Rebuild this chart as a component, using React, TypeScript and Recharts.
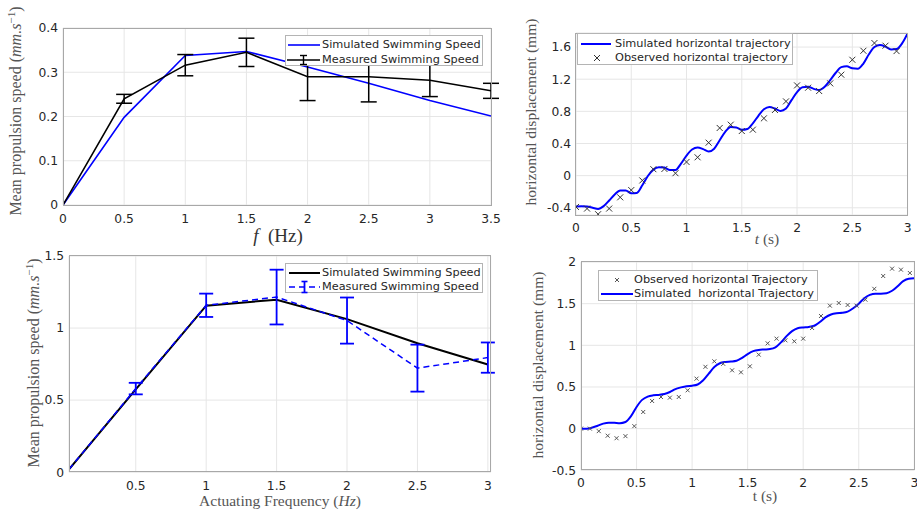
import React from 'react';
import { ComposedChart, Line, XAxis, YAxis, CartesianGrid, ErrorBar } from 'recharts';

// ---------- Panel A (top-left): speed vs frequency ----------
const freqA = [0, 0.5, 1, 1.5, 2, 2.5, 3, 3.5];
const simSpeedA = [0, 0.198, 0.338, 0.347, 0.312, 0.275, 0.236, 0.201];
const measSpeedA = [0, 0.24, 0.316, 0.345, 0.29, 0.29, 0.282, 0.258];
const measErrA = [0, 0.01, 0.024, 0.032, 0.054, 0.057, 0.037, 0.017];
const xTicksA = [0, 0.5, 1, 1.5, 2, 2.5, 3, 3.5];
const yTicksA = [0, 0.1, 0.2, 0.3, 0.4];

// ---------- Panel B (top-right): trajectory ----------
const simTimeB = [0, 0.05, 0.1, 0.15, 0.2, 0.25, 0.3, 0.35, 0.4, 0.45, 0.5, 0.55, 0.6, 0.65, 0.7, 0.75, 0.8, 0.85, 0.9, 0.95, 1, 1.05, 1.1, 1.15, 1.2, 1.25, 1.3, 1.35, 1.4, 1.45, 1.5, 1.55, 1.6, 1.65, 1.7, 1.75, 1.8, 1.85, 1.9, 1.95, 2, 2.05, 2.1, 2.15, 2.2, 2.25, 2.3, 2.35, 2.4, 2.45, 2.5, 2.55, 2.6, 2.65, 2.7, 2.75, 2.8, 2.85, 2.9, 2.95, 3];
const simDispB = [-0.385, -0.38, -0.385, -0.4, -0.415, -0.38, -0.31, -0.235, -0.185, -0.185, -0.22, -0.215, -0.12, -0.005, 0.075, 0.105, 0.1, 0.07, 0.07, 0.15, 0.25, 0.325, 0.35, 0.33, 0.3, 0.335, 0.44, 0.545, 0.605, 0.6, 0.57, 0.58, 0.65, 0.745, 0.825, 0.855, 0.835, 0.805, 0.835, 0.94, 1.04, 1.1, 1.105, 1.08, 1.065, 1.105, 1.19, 1.28, 1.35, 1.36, 1.335, 1.33, 1.395, 1.51, 1.6, 1.625, 1.605, 1.57, 1.575, 1.645, 1.77];
const obsTimeB = [0, 0.1, 0.2, 0.3, 0.4, 0.5, 0.6, 0.7, 0.8, 0.9, 1, 1.1, 1.2, 1.3, 1.4, 1.5, 1.6, 1.7, 1.8, 1.9, 2, 2.1, 2.2, 2.3, 2.4, 2.5, 2.6, 2.7, 2.8, 2.9];
const obsDispB = [-0.39, -0.41, -0.48, -0.41, -0.27, -0.18, -0.06, 0.08, 0.083, 0.03, 0.17, 0.228, 0.41, 0.593, 0.634, 0.555, 0.572, 0.713, 0.817, 0.924, 1.123, 1.094, 1.053, 1.148, 1.256, 1.442, 1.554, 1.65, 1.617, 1.55];
const xTicksB = [0, 0.5, 1, 1.5, 2, 2.5, 3];
const yTicksB = [-0.4, 0, 0.4, 0.8, 1.2, 1.6];

// ---------- Panel C (bottom-left): speed vs actuating frequency ----------
const freqC = [0.026, 0.5, 1, 1.5, 2, 2.5, 3];
const simSpeedC = [0.02, 0.575, 1.155, 1.197, 1.062, 0.895, 0.747];
const measSpeedC = [0.02, 0.58, 1.158, 1.215, 1.052, 0.722, 0.795];
const measErrC = [0, 0.04, 0.081, 0.19, 0.16, 0.163, 0.105];
const xTicksC = [0.5, 1, 1.5, 2, 2.5, 3];
const yTicksC = [0, 0.5, 1, 1.5];

// ---------- Panel D (bottom-right): trajectory ----------
const simTimeD = [0, 0.05, 0.1, 0.15, 0.2, 0.25, 0.3, 0.35, 0.4, 0.45, 0.5, 0.55, 0.6, 0.65, 0.7, 0.75, 0.8, 0.85, 0.9, 0.95, 1, 1.05, 1.1, 1.15, 1.2, 1.25, 1.3, 1.35, 1.4, 1.45, 1.5, 1.55, 1.6, 1.65, 1.7, 1.75, 1.8, 1.85, 1.9, 1.95, 2, 2.05, 2.1, 2.15, 2.2, 2.25, 2.3, 2.35, 2.4, 2.45, 2.5, 2.55, 2.6, 2.65, 2.7, 2.75, 2.8, 2.85, 2.9, 2.95, 3];
const simDispD = [0, 0, 0.012, 0.035, 0.06, 0.072, 0.07, 0.066, 0.08, 0.15, 0.26, 0.345, 0.385, 0.4, 0.405, 0.415, 0.44, 0.475, 0.495, 0.51, 0.515, 0.53, 0.58, 0.66, 0.74, 0.785, 0.8, 0.805, 0.815, 0.85, 0.895, 0.93, 0.945, 0.95, 0.955, 0.975, 1.035, 1.11, 1.17, 1.205, 1.215, 1.22, 1.235, 1.28, 1.335, 1.37, 1.385, 1.39, 1.405, 1.445, 1.5, 1.565, 1.605, 1.62, 1.62, 1.625, 1.655, 1.71, 1.77, 1.8, 1.805];
const obsTimeD = [0, 0.08, 0.16, 0.24, 0.32, 0.4, 0.48, 0.56, 0.64, 0.72, 0.8, 0.88, 0.96, 1.04, 1.12, 1.2, 1.28, 1.36, 1.44, 1.52, 1.6, 1.68, 1.76, 1.84, 1.92, 2, 2.08, 2.16, 2.24, 2.32, 2.4, 2.48, 2.56, 2.64, 2.72, 2.8, 2.88, 2.96];
const obsDispD = [0, 0, -0.03, -0.085, -0.115, -0.09, 0.03, 0.2, 0.332, 0.38, 0.372, 0.38, 0.46, 0.6, 0.742, 0.808, 0.778, 0.7, 0.676, 0.748, 0.888, 1.024, 1.08, 1.06, 1.048, 1.08, 1.208, 1.352, 1.476, 1.508, 1.484, 1.476, 1.548, 1.678, 1.832, 1.92, 1.908, 1.868];
const xTicksD = [0, 0.5, 1, 1.5, 2, 2.5, 3];
const yTicksD = [-0.5, 0, 0.5, 1, 1.5, 2];

// ---------- tables built from the arrays ----------
const rowsA = freqA.map((x, i) => ({ x, sim: simSpeedA[i], meas: measSpeedA[i], err: measErrA[i] }));
const rowsC = freqC.map((x, i) => ({ x, sim: simSpeedC[i], meas: measSpeedC[i], err: measErrC[i] }));
const simB = simTimeB.map((x, i) => ({ x, y: simDispB[i] }));
const obsB = obsTimeB.map((x, i) => ({ x, y: obsDispB[i] }));
const simD = simTimeD.map((x, i) => ({ x, y: simDispD[i] }));
const obsD = obsTimeD.map((x, i) => ({ x, y: obsDispD[i] }));

// ---------- layout ----------
type Rect = { x: number; y: number; w: number; h: number };
const rA: Rect = { x: 63, y: 28, w: 428, h: 177 };
const rB: Rect = { x: 575.7, y: 33, w: 331.6, h: 182 };
const rC: Rect = { x: 69.3, y: 255.5, w: 421.7, h: 216.2 };
const rD: Rect = { x: 581, y: 261.7, w: 333.3, h: 208.3 };

const YW = 50;
const MT = 6;
const XH = 30;
const MR = 20;
const BLUE = '#0000ff';
const tickStyle = { fontSize: 12.3, fill: '#262626', fontFamily: 'DejaVu Sans' };
const serif = '"Liberation Serif", "DejaVu Serif", serif';
const sans = '"DejaVu Sans", sans-serif';

const makeX = (size: number, color: string) => (props: any) => {
  const { cx, cy, index } = props;
  if (cx == null || cy == null) return <g key={`n${index}`} />;
  const s = size / 2;
  return (
    <path
      key={`m${index}`}
      d={`M${cx - s},${cy - s}L${cx + s},${cy + s}M${cx - s},${cy + s}L${cx + s},${cy - s}`}
      stroke={color}
      strokeWidth={1}
      fill="none"
    />
  );
};

function Frame({ r }: { r: Rect }) {
  return (
    <div
      style={{
        position: 'absolute',
        left: r.x - 0.5,
        top: r.y - 0.5,
        width: r.w + 1,
        height: r.h + 1,
        border: '1px solid #a8a8a8',
        boxSizing: 'border-box',
        pointerEvents: 'none',
      }}
    />
  );
}

function Panel({ r, xDomain, yDomain, xTicks, yTicks, xMargin, data, children }: any) {
  return (
    <div style={{ position: 'absolute', left: r.x - YW, top: r.y - MT }}>
      <ComposedChart
        width={r.w + YW + MR}
        height={r.h + MT + XH}
        data={data}
        margin={{ top: MT, right: MR, bottom: 0, left: 0 }}
      >
        <CartesianGrid stroke="#e6e6e6" strokeWidth={1} />
        <XAxis
          type="number"
          dataKey="x"
          domain={xDomain}
          ticks={xTicks}
          interval={0}
          allowDataOverflow
          axisLine={false}
          tickLine={false}
          tickSize={0}
          tickMargin={xMargin}
          height={XH}
          tick={tickStyle}
        />
        <YAxis
          type="number"
          domain={yDomain}
          ticks={yTicks}
          interval={0}
          allowDataOverflow
          axisLine={false}
          tickLine={false}
          tickSize={0}
          tickMargin={5}
          width={YW}
          tick={tickStyle}
        />
        {children}
      </ComposedChart>
    </div>
  );
}

function VLabel({ cx, cy, children, size = 15.5, color = '#555' }: any) {
  return (
    <div
      style={{
        position: 'absolute',
        left: cx,
        top: cy,
        transform: 'translate(-50%, -50%) rotate(-90deg)',
        whiteSpace: 'nowrap',
        fontFamily: serif,
        fontSize: size,
        color,
        lineHeight: 1,
      }}
    >
      {children}
    </div>
  );
}

function HLabel({ cx, cy, children, size = 15.5, color = '#555' }: any) {
  return (
    <div
      style={{
        position: 'absolute',
        left: cx,
        top: cy,
        transform: 'translate(-50%, -50%)',
        whiteSpace: 'nowrap',
        fontFamily: serif,
        fontSize: size,
        color,
        lineHeight: 0.9,
      }}
    >
      {children}
    </div>
  );
}

function LegendBox({ x, y, w, h, rows }: any) {
  return (
    <div
      style={{
        position: 'absolute',
        left: x,
        top: y,
        width: w,
        height: h,
        border: '1px solid #b4b4b4',
        boxSizing: 'border-box',
        background: '#fff',
      }}
    >
      {rows.map((row: any, i: number) => (
        <div key={i}>
          <svg
            width={40}
            height={14}
            style={{ position: 'absolute', left: row.iconX - x, top: row.cy - y - 7 }}
          >
            {row.icon}
          </svg>
          <div
            style={{
              position: 'absolute',
              left: row.textX - x,
              top: row.cy - y - 7,
              height: 14,
              lineHeight: '14px',
              fontFamily: sans,
              fontSize: 11.3,
              color: '#262626',
              whiteSpace: 'pre',
            }}
          >
            {row.label}
          </div>
        </div>
      ))}
    </div>
  );
}

const speedLabel = (
  <span>
    Mean propulsion speed (<i>mm.s</i>
    <sup style={{ fontSize: '0.7em' }}>−1</sup>)
  </span>
);

export default function App() {
  return (
    <div
      style={{
        position: 'absolute',
        left: 0,
        top: 0,
        width: 917,
        height: 510,
        overflow: 'hidden',
        background: '#fff',
      }}
    >
      {/* Panel A */}
      <Panel r={rA} xDomain={[0, 3.5]} yDomain={[0, 0.4]} xTicks={xTicksA} yTicks={yTicksA} xMargin={9} data={rowsA}>
        <Line dataKey="sim" type="linear" stroke={BLUE} strokeWidth={1.6} dot={false} activeDot={false} isAnimationActive={false} />
        <Line dataKey="meas" type="linear" stroke="#000" strokeWidth={1.6} dot={false} activeDot={false} isAnimationActive={false}>
          <ErrorBar dataKey="err" width={8} stroke="#000" strokeWidth={1.5} direction="y" isAnimationActive={false} />
        </Line>
      </Panel>
      <Frame r={rA} />
      <VLabel cx={15} cy={111} size={16}>{speedLabel}</VLabel>
      <HLabel cx={278} cy={236} size={19} color="#333">
        <i>f</i>&nbsp;&nbsp;(Hz)
      </HLabel>
      <LegendBox
        x={285}
        y={35}
        w={198}
        h={31}
        rows={[
          { cy: 44, iconX: 287, textX: 321, label: 'Simulated Swimming Speed', icon: <line x1={0} y1={7} x2={32} y2={7} stroke={BLUE} strokeWidth={1.6} /> },
          {
            cy: 58.5,
            iconX: 286,
            textX: 321,
            label: 'Measured Swimming Speed',
            icon: (
              <g stroke="#000" strokeWidth={1.4}>
                <line x1={0} y1={7} x2={33} y2={7} />
                <line x1={16.5} y1={2.5} x2={16.5} y2={11.5} />
                <line x1={13} y1={2.5} x2={20} y2={2.5} />
                <line x1={13} y1={11.5} x2={20} y2={11.5} />
              </g>
            ),
          },
        ]}
      />

      {/* Panel B */}
      <Panel r={rB} xDomain={[0, 3]} yDomain={[-0.49, 1.775]} xTicks={xTicksB} yTicks={yTicksB} xMargin={8.5}>
        <Line data={simB} dataKey="y" type="monotone" stroke={BLUE} strokeWidth={2} dot={false} activeDot={false} isAnimationActive={false} />
        <Line data={obsB} dataKey="y" type="linear" stroke="none" dot={makeX(6, '#333')} activeDot={false} isAnimationActive={false} />
      </Panel>
      <Frame r={rB} />
      <VLabel cx={531} cy={112}>horizontal displacement (mm)</VLabel>
      <HLabel cx={767} cy={239}>
        <i>t</i>&nbsp;(s)
      </HLabel>
      <LegendBox
        x={577}
        y={33}
        w={216}
        h={32}
        rows={[
          { cy: 43, iconX: 580, textX: 614, label: 'Simulated horizontal trajectory', icon: <line x1={0} y1={7} x2={30} y2={7} stroke={BLUE} strokeWidth={2} /> },
          {
            cy: 57,
            iconX: 580,
            textX: 614,
            label: 'Observed horizontal trajectory',
            icon: <path d="M13,4L19,10M13,10L19,4" stroke="#333" strokeWidth={1} fill="none" />,
          },
        ]}
      />

      {/* Panel C */}
      <Panel r={rC} xDomain={[0.026, 3.02]} yDomain={[0, 1.5]} xTicks={xTicksC} yTicks={yTicksC} xMargin={9} data={rowsC}>
        <Line dataKey="sim" type="linear" stroke="#000" strokeWidth={2} dot={false} activeDot={false} isAnimationActive={false} />
        <Line dataKey="meas" type="linear" stroke={BLUE} strokeWidth={1.5} strokeDasharray="6 4" dot={false} activeDot={false} isAnimationActive={false}>
          <ErrorBar dataKey="err" width={7} stroke={BLUE} strokeWidth={1.8} direction="y" isAnimationActive={false} />
        </Line>
      </Panel>
      <Frame r={rC} />
      <VLabel cx={33} cy={363} size={16}>{speedLabel}</VLabel>
      <HLabel cx={280} cy={500.5}>
        Actuating Frequency (<i>Hz</i>)
      </HLabel>
      <LegendBox
        x={285}
        y={263}
        w={198}
        h={30}
        rows={[
          { cy: 271.5, iconX: 288, textX: 321, label: 'Simulated Swimming Speed', icon: <line x1={0} y1={7} x2={31} y2={7} stroke="#000" strokeWidth={2} /> },
          {
            cy: 285.5,
            iconX: 288,
            textX: 321,
            label: 'Measured Swimming Speed',
            icon: (
              <g stroke={BLUE} strokeWidth={1.6}>
                <line x1={0} y1={7} x2={31} y2={7} strokeDasharray="6 4" />
                <line x1={15.5} y1={1.5} x2={15.5} y2={12.5} strokeWidth={1.8} />
                <line x1={12.5} y1={1.5} x2={18.5} y2={1.5} />
                <line x1={12.5} y1={12.5} x2={18.5} y2={12.5} />
              </g>
            ),
          },
        ]}
      />

      {/* Panel D */}
      <Panel r={rD} xDomain={[0, 3]} yDomain={[-0.5, 2]} xTicks={xTicksD} yTicks={yTicksD} xMargin={7.5}>
        <Line data={simD} dataKey="y" type="monotone" stroke={BLUE} strokeWidth={2} dot={false} activeDot={false} isAnimationActive={false} />
        <Line data={obsD} dataKey="y" type="linear" stroke="none" dot={makeX(4, '#555')} activeDot={false} isAnimationActive={false} />
      </Panel>
      <Frame r={rD} />
      <VLabel cx={538} cy={365}>horizontal displacement (mm)</VLabel>
      <HLabel cx={765} cy={496}>t&nbsp;(s)</HLabel>
      <LegendBox
        x={598}
        y={270}
        w={220}
        h={31}
        rows={[
          {
            cy: 278.5,
            iconX: 600,
            textX: 633,
            label: 'Observed horizontal Trajectory',
            icon: <path d="M14,5L18,9M14,9L18,5" stroke="#555" strokeWidth={1} fill="none" />,
          },
          { cy: 292.5, iconX: 600, textX: 633, label: 'Simulated  horizontal Trajectory', icon: <line x1={0} y1={7} x2={32} y2={7} stroke={BLUE} strokeWidth={2} /> },
        ]}
      />
    </div>
  );
}
